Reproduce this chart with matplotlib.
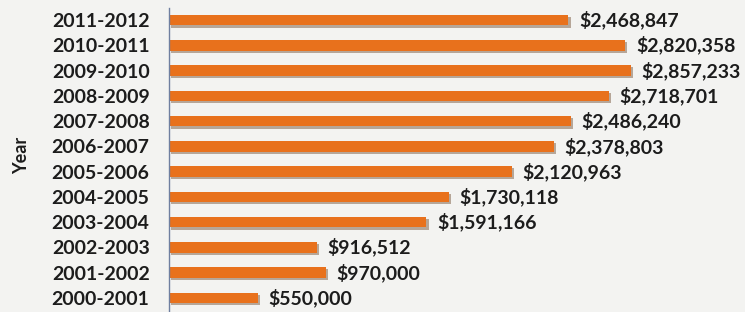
import matplotlib.pyplot as plt
import matplotlib.patheffects as pe

years = ["2000-2001", "2001-2002", "2002-2003", "2003-2004", "2004-2005", "2005-2006",
         "2006-2007", "2007-2008", "2008-2009", "2009-2010", "2010-2011", "2011-2012"]
funding = [550000, 970000, 916512, 1591166, 1730118, 2120963,
           2378803, 2486240, 2718701, 2857233, 2820358, 2468847]

bg = "#f3f3f1"
fnt = "Lato"
fig = plt.figure(figsize=(7.45, 3.12), dpi=100, facecolor=bg)
ax = fig.add_axes([169 / 745, 1.5 / 312, 1 - 169 / 745, 1 - 9 / 312])
ax.set_facecolor(bg)

ypos = range(len(years))
bars = ax.barh(ypos, funding, height=0.42, color="#e8711c", edgecolor="none")
for b in bars:
    b.set_path_effects([pe.SimplePatchShadow(offset=(1.5, -1.5), shadow_rgbFace="#7a5a40", alpha=0.5),
                        pe.Normal()])

for y, v in zip(ypos, funding):
    ax.text(v + 65000, y, "${:,}".format(v), va="center", ha="left",
            fontsize=14, fontweight="bold", fontfamily=fnt, color="#1c1c1c")

ax.set_xlim(0, 3560000)
ax.set_ylim(-0.5, len(years) - 0.5)
ax.set_yticks(list(ypos))
ax.set_yticklabels(years, fontsize=14, fontweight="bold", fontfamily=fnt, color="#1c1c1c")
ax.tick_params(axis="y", length=0, pad=14)
ax.set_xticks([])
for s in ["top", "right", "bottom"]:
    ax.spines[s].set_visible(False)
ax.spines["left"].set_color("#6f7fa0")
ax.spines["left"].set_linewidth(1)

fig.text(22 / 745, 1 - 155 / 312, "Year", rotation=90, va="center", ha="center",
         fontsize=13, fontweight="bold", fontfamily=fnt, color="#1c1c1c")

fig.savefig("out.png", dpi=100, facecolor=bg)
